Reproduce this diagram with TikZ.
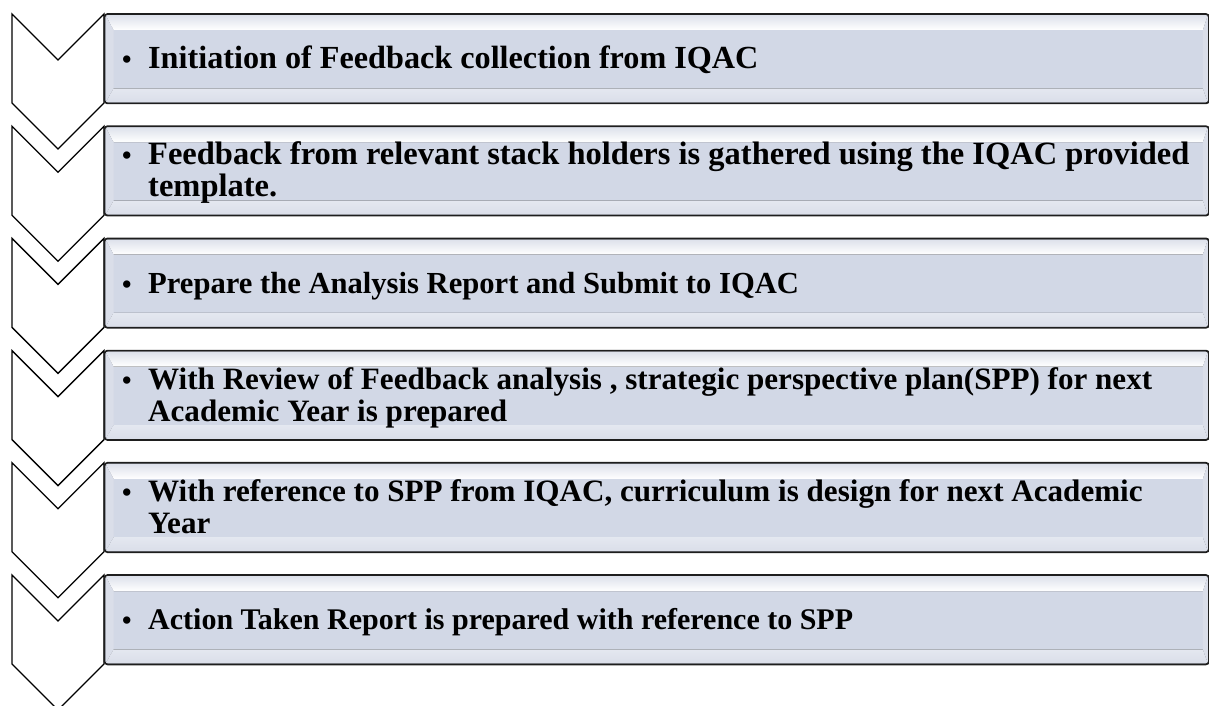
\documentclass[tikz,border=0pt]{standalone}
\usepackage{fontspec}
\setmainfont{Liberation Serif}
\definecolor{boxfill}{HTML}{D2D8E6}
\definecolor{bandlt}{HTML}{DDE1EB}
\definecolor{bandside}{HTML}{DADEE9}
\definecolor{frame}{HTML}{1E1E1E}
\tikzset{
  chev/.style={draw=black, line width=1.3pt, fill=white, line join=miter},
  boxbg/.style={fill=boxfill, rounded corners=3pt, inner sep=0pt, minimum width=1104pt, minimum height=89pt, anchor=north west},
  boxline/.style={draw=frame, line width=1.7pt, rounded corners=3pt},
  txt/.style={anchor=base west, align=left, inner sep=0pt, font=\fontsize{#1}{32}\selectfont\bfseries},
  bul/.style={anchor=base west, inner sep=0pt, font=\fontsize{27}{28}\selectfont\bfseries}
}
\begin{document}
\begin{tikzpicture}[x=1pt,y=-1pt]
\useasboundingbox (0,0) rectangle (1209,706);
% chevrons
\foreach \T in {14,126.2,238.4,350.6,462.8,575}{
  \draw[chev] (12,\T) -- (58,\T+46) -- (104,\T) -- (104,\T+89) -- (58,\T+135) -- (12,\T+89) -- cycle;
}
% boxes with bevel
\foreach \i/\T in {1/14,2/126.2,3/238.4,4/350.6,5/462.8,6/575}{
  \node[boxbg] (b\i) at (104.5,\T) {};
  \fill[top color=bandlt, bottom color=white] ([xshift=1pt,yshift=-1pt]b\i.north west) -- ([xshift=-1pt,yshift=-1pt]b\i.north east) -- ([xshift=-6pt,yshift=-16pt]b\i.north east) -- ([xshift=9pt,yshift=-16pt]b\i.north west) -- cycle;
  \fill[top color=boxfill!60!white, middle color=white, bottom color=bandside] ([xshift=9pt,yshift=15pt]b\i.south west) -- ([xshift=-6pt,yshift=15pt]b\i.south east) -- ([xshift=-1pt,yshift=1pt]b\i.south east) -- ([xshift=1pt,yshift=1pt]b\i.south west) -- cycle;
  \fill[bandside] ([xshift=1pt,yshift=-1pt]b\i.north west) -- ([xshift=9pt,yshift=-16pt]b\i.north west) -- ([xshift=9pt,yshift=15pt]b\i.south west) -- ([xshift=1pt,yshift=1pt]b\i.south west) -- cycle;
  \fill[bandside] ([xshift=-1pt,yshift=-1pt]b\i.north east) -- ([xshift=-6pt,yshift=-16pt]b\i.north east) -- ([xshift=-6pt,yshift=15pt]b\i.south east) -- ([xshift=-1pt,yshift=1pt]b\i.south east) -- cycle;
  \draw[boxline] (b\i.north west) rectangle (b\i.south east);
}
% texts (base = last line baseline)
\node[txt=32.2] (t1) at (148,69) {Initiation of Feedback collection from IQAC};
\node[txt=32.5] (t2) at (148,196.8) {Feedback from relevant stack holders is gathered using the IQAC provided\\template.};
\node[txt=30.6] (t3) at (148,293) {Prepare the Analysis Report and Submit to IQAC};
\node[txt=31.1] (t4) at (148,421.2) {With Review of Feedback analysis , strategic perspective plan(SPP) for next\\Academic Year is prepared};
\node[txt=31.1] (t5) at (148,533.4) {With reference to SPP from IQAC, curriculum is design for next Academic\\Year};
\node[txt=30] (t6) at (148,629.5) {Action Taken Report is prepared with reference to SPP};
\foreach \i in {1,3,6}{
  \node[bul] (u\i) at ([xshift=-26pt]t\i.base west) {\textbullet};
}
\foreach \i in {2,4,5}{
  \node[bul] (u\i) at ([xshift=-26pt,yshift=32pt]t\i.base west) {\textbullet};
}
\end{tikzpicture}
\end{document}
